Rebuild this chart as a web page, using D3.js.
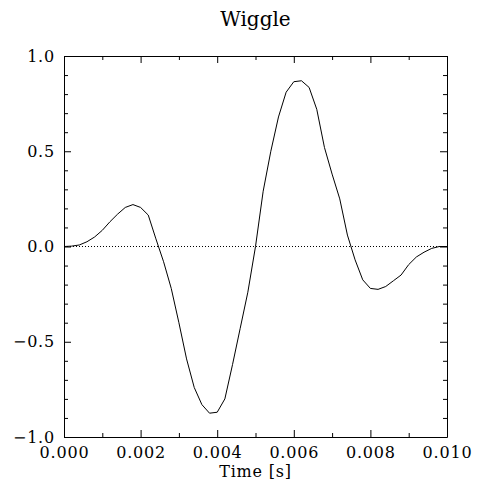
<!DOCTYPE html>
<html>
<head>
<meta charset="utf-8">
<script src="https://cdn.jsdelivr.net/npm/d3@7"></script>
<style>
    html, body { margin: 0; padding: 0; background: #fff; }
    svg { display: block; }
    .frame-axis path { stroke: #000; stroke-width: 1; }
    .frame-axis line { stroke: #000; stroke-width: 1; }
    .frame-axis text { font-family: "DejaVu Serif", serif; font-size: 16px; letter-spacing: 0.8px; fill: #000; }
</style>
</head>
<body>
<div id="wiggle"></div>
<script>
const timeSamples = [
    0.0000, 0.0002, 0.0004, 0.0006, 0.0008, 0.0010, 0.0012, 0.0014, 0.0016, 0.0018,
    0.0020, 0.0022, 0.0024, 0.0026, 0.0028, 0.0030, 0.0032, 0.0034, 0.0036, 0.0038,
    0.0040, 0.0042, 0.0044, 0.0046, 0.0048, 0.0050, 0.0052, 0.0054, 0.0056, 0.0058,
    0.0060, 0.0062, 0.0064, 0.0066, 0.0068, 0.0070, 0.0072, 0.0074, 0.0076, 0.0078,
    0.0080, 0.0082, 0.0084, 0.0086, 0.0088, 0.0090, 0.0092, 0.0094, 0.0096, 0.0098,
    0.0100
];
const amplitude = [
    0.000, 0.002, 0.008, 0.025, 0.050, 0.085, 0.130, 0.170, 0.205, 0.220,
    0.205, 0.165, 0.040, -0.080, -0.220, -0.400, -0.590, -0.740, -0.830, -0.875,
    -0.870, -0.800, -0.620, -0.430, -0.240, 0.000, 0.290, 0.500, 0.680, 0.810,
    0.865, 0.870, 0.835, 0.720, 0.520, 0.380, 0.250, 0.060, -0.070, -0.175,
    -0.220, -0.225, -0.210, -0.180, -0.150, -0.095, -0.055, -0.030, -0.010, 0.000,
    0.000
];
const xMajorTicks = [0, 0.002, 0.004, 0.006, 0.008, 0.010];
const xMinorTicks = [0.001, 0.003, 0.005, 0.007, 0.009];
const yMajorTicks = [-1, -0.5, 0, 0.5, 1];
const yMinorTicks = [-0.9, -0.8, -0.7, -0.6, -0.4, -0.3, -0.2, -0.1, 0.1, 0.2, 0.3, 0.4, 0.6, 0.7, 0.8, 0.9];

const width = 479;
const height = 494;
const margin = { top: 56, right: 32, bottom: 57, left: 64 };

const x = d3.scaleLinear()
    .domain([0, 0.01])
    .range([margin.left, width - margin.right]);
const y = d3.scaleLinear()
    .domain([-1, 1])
    .range([height - margin.bottom, margin.top]);

const svg = d3.select("#wiggle")
    .append("svg")
    .attr("width", width)
    .attr("height", height);

const majorLen = 7;
const minorLen = 4;
const fmtX = d3.format(".3f");
const fmtY = v => d3.format(".1f")(v).replace("-", "\u2212");

// bottom axis with labels
svg.append("g")
    .attr("class", "frame-axis")
    .attr("transform", `translate(0,${y(-1)})`)
    .call(d3.axisBottom(x).tickValues(xMajorTicks).tickFormat(fmtX).tickSizeInner(-majorLen).tickSizeOuter(0).tickPadding(10));
svg.append("g")
    .attr("class", "frame-axis")
    .attr("transform", `translate(0,${y(-1)})`)
    .call(d3.axisBottom(x).tickValues(xMinorTicks).tickFormat("").tickSize(-minorLen))
    .call(g => g.select(".domain").remove());

// top axis, ticks only
svg.append("g")
    .attr("class", "frame-axis")
    .attr("transform", `translate(0,${y(1)})`)
    .call(d3.axisTop(x).tickValues(xMajorTicks).tickFormat("").tickSizeInner(-majorLen).tickSizeOuter(0));
svg.append("g")
    .attr("class", "frame-axis")
    .attr("transform", `translate(0,${y(1)})`)
    .call(d3.axisTop(x).tickValues(xMinorTicks).tickFormat("").tickSize(-minorLen))
    .call(g => g.select(".domain").remove());

// left axis with labels
svg.append("g")
    .attr("class", "frame-axis")
    .attr("transform", `translate(${x(0)},0)`)
    .call(d3.axisLeft(y).tickValues(yMajorTicks).tickFormat(fmtY).tickSizeInner(-majorLen).tickSizeOuter(0).tickPadding(9));
svg.append("g")
    .attr("class", "frame-axis")
    .attr("transform", `translate(${x(0)},0)`)
    .call(d3.axisLeft(y).tickValues(yMinorTicks).tickFormat("").tickSize(-minorLen))
    .call(g => g.select(".domain").remove());

// right axis, ticks only
svg.append("g")
    .attr("class", "frame-axis")
    .attr("transform", `translate(${x(0.01)},0)`)
    .call(d3.axisRight(y).tickValues(yMajorTicks).tickFormat("").tickSizeInner(-majorLen).tickSizeOuter(0));
svg.append("g")
    .attr("class", "frame-axis")
    .attr("transform", `translate(${x(0.01)},0)`)
    .call(d3.axisRight(y).tickValues(yMinorTicks).tickFormat("").tickSize(-minorLen))
    .call(g => g.select(".domain").remove());

// zero reference line
svg.append("line")
    .attr("x1", x(0))
    .attr("x2", x(0.01))
    .attr("y1", y(0))
    .attr("y2", y(0))
    .attr("stroke", "#000")
    .attr("stroke-width", 1)
    .attr("stroke-dasharray", "1,2");

// the trace
const trace = timeSamples.map((t, i) => [t, amplitude[i]]);
svg.append("path")
    .datum(trace)
    .attr("fill", "none")
    .attr("stroke", "#000")
    .attr("stroke-width", 1)
    .attr("d", d3.line().x(d => x(d[0])).y(d => y(d[1])));

svg.append("text")
    .attr("x", (x(0) + x(0.01)) / 2)
    .attr("y", 26)
    .attr("text-anchor", "middle")
    .attr("font-family", "DejaVu Serif, serif")
    .attr("font-size", 20)
    .text("Wiggle");

svg.append("text")
    .attr("x", (x(0) + x(0.01)) / 2)
    .attr("y", 477)
    .attr("text-anchor", "middle")
    .attr("font-family", "DejaVu Serif, serif")
    .attr("font-size", 16)
    .attr("letter-spacing", 0.8)
    .text("Time [s]");
</script>
</body>
</html>
